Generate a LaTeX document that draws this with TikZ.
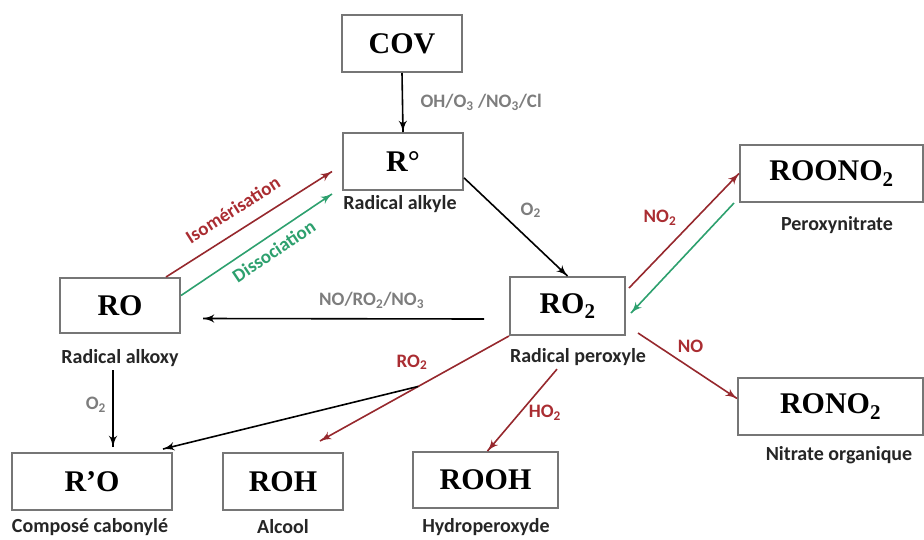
\documentclass[tikz,border=0pt]{standalone}
\usepackage{fontspec}
\setmainfont{Liberation Serif}
\newfontfamily\calib{Carlito}
\usepackage{tikz}
\usetikzlibrary{arrows}
\usetikzlibrary{decorations.markings}
\definecolor{boxgray}{RGB}{118,118,118}
\definecolor{darkred}{RGB}{150,40,45}
\definecolor{labred}{RGB}{170,45,50}
\definecolor{darkgreen}{RGB}{45,160,110}
\definecolor{labgray}{RGB}{125,125,125}
\tikzset{->/.style = {decoration={markings,
                                  mark=at position 1 with {\arrow[scale=1.5]{latex'}}},
                      postaction={decorate}}}
\tikzset{box/.style = {draw=boxgray, line width=2pt, inner sep=0,
                       minimum width=120pt, minimum height=57pt,
                       font=\bfseries\fontsize{30}{30}\selectfont}}
\tikzset{sublab/.style = {font=\calib\bfseries\fontsize{20}{20}\selectfont, text=black!85}}
\tikzset{greylab/.style = {font=\calib\bfseries\fontsize{19}{19}\selectfont, text=labgray}}
\tikzset{redlab/.style = {font=\calib\bfseries\fontsize{19}{19}\selectfont, text=labred}}
\tikzset{blk/.style = {line width=1.6pt, color=black}}
\tikzset{rd/.style = {line width=1.6pt, color=darkred}}
\tikzset{gr/.style = {line width=1.6pt, color=darkgreen}}

\begin{document}
\begin{tikzpicture}[x=1pt, y=-1pt]
      \useasboundingbox (0, 0) rectangle (924, 539);
      % boxes
      \node [box] (COV) at (402, 43.5) {COV};
      \node [box] (R) at (403, 161.5) {R°};
      \node [box, minimum height=55pt] (RO) at (120, 305.5) {RO};
      \node [box, minimum width=115pt, minimum height=58pt] (RO2) at (567.5, 306) {RO\textsubscript{2}};
      \node [box, minimum width=183pt] (ROONO2) at (831.5, 173.5) {ROONO\textsubscript{2}};
      \node [box, minimum width=185pt] (RONO2) at (830.5, 406.5) {RONO\textsubscript{2}};
      \node [box, minimum width=160pt] (Rp) at (92, 481.5) {R’O};
      \node [box] (ROH) at (283, 481.5) {ROH};
      \node [box, minimum width=145pt, minimum height=56pt] (ROOH) at (485.5, 480) {ROOH};
      % names
      \node [sublab] (nR) at (400, 204) {Radical alkyle};
      \node [sublab] (nROONO2) at (837, 225) {Peroxynitrate};
      \node [sublab] (nRO) at (120, 358) {Radical alkoxy};
      \node [sublab] (nRO2) at (578, 357) {Radical peroxyle};
      \node [sublab] (nRONO2) at (839, 455) {Nitrate organique};
      \node [sublab] (nRp) at (90, 527) {Composé cabonylé};
      \node [sublab] (nROH) at (283, 527) {Alcool};
      \node [sublab] (nROOH) at (486, 527) {Hydroperoxyde};
      % black arrows
      \draw [blk, ->] (COV.south) -- (R.north) node [pos = 0.5, right = 14pt, greylab] {OH/O\textsubscript{3} /NO\textsubscript{3}/Cl};
      \draw [blk, ->] (R.-15) -- (RO2.north) node [pos = 0.45, anchor = south west, xshift = 6pt, greylab] {O\textsubscript{2}};
      \draw [blk, ->] ([xshift = -25pt, yshift = -13pt]RO2.west) -- ([xshift = 22pt, yshift = -13pt]RO.east)
            node [pos = 0.4, above = 6pt, greylab] {NO/RO\textsubscript{2}/NO\textsubscript{3}};
      \draw [blk, ->] ([xshift = -7pt]nRO.south) -- ([xshift = 21pt, yshift = 5pt]Rp.north)
            node [pos = 0.45, left = 3pt, greylab] {O\textsubscript{2}};
      % red arrows
      \draw [rd, ->] ([xshift = -15pt]RO.north east) -- ([xshift = -10pt, yshift = -10pt]R.west)
            node [pos = 0.47, sloped, above = 10pt, redlab] {Isomérisation};
      \draw [rd, ->] ([xshift = 3pt, yshift = 18pt]RO2.east) -- (ROONO2.west)
            node [pos = 0.45, xshift = -18.5pt, yshift = 18.5pt, redlab] {NO\textsubscript{2}};
      \draw [rd, ->] ([xshift = 12pt, yshift = 3pt]RO2.south east) -- ([yshift = 8pt]RONO2.west)
            node [pos = 0.43, xshift = 10pt, yshift = 15pt, redlab] {NO};
      \draw [rd, ->] (RO2.south west) -- ([xshift = 37pt, yshift = 11pt]ROH.north)
            coordinate [pos = 0.48] (split)
            node [pos = 0.45, xshift = -12pt, yshift = 21pt, redlab] {RO\textsubscript{2}};
      \draw [rd, ->] ([xshift = -21pt]nRO2.south) -- ([xshift = 2pt]ROOH.north)
            node [pos = 0.39, xshift = 15pt, yshift = -12pt, redlab] {HO\textsubscript{2}};
      \draw [blk, ->] (split) -- ([xshift = -10pt, yshift = 3pt]Rp.north east);
      % green arrows
      \draw [gr, ->] ([yshift = 10pt]RO.east) -- ([xshift = -10pt, yshift = -3pt]R.south west)
            node [pos = 0.56, sloped, below = 4pt, font = \calib\bfseries\fontsize{19}{19}\selectfont, text = darkgreen] {Dissociation};
      \draw [gr, ->] ([xshift = -5pt]ROONO2.south west) -- ([xshift = 5pt, yshift = -7pt]RO2.east);
    \end{tikzpicture}
\end{document}
